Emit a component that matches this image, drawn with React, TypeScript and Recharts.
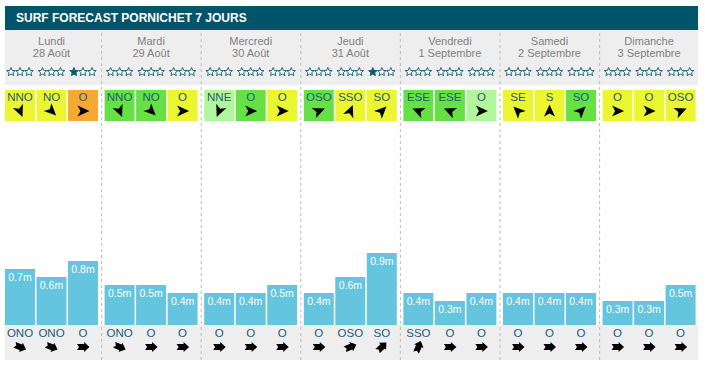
import { BarChart, Bar, XAxis, YAxis, ReferenceLine, LabelList } from 'recharts';

const days = ['Lundi', 'Mardi', 'Mercredi', 'Jeudi', 'Vendredi', 'Samedi', 'Dimanche'];
const dates = ['28 Août', '29 Août', '30 Août', '31 Août', '1 Septembre', '2 Septembre', '3 Septembre'];

// wave height in metres, three forecasts per day
const waveSlot1 = [0.7, 0.5, 0.4, 0.4, 0.4, 0.4, 0.3];
const waveSlot2 = [0.6, 0.5, 0.4, 0.6, 0.3, 0.4, 0.3];
const waveSlot3 = [0.8, 0.4, 0.5, 0.9, 0.4, 0.4, 0.5];

const windDirs = [
  ['NNO', 'NO', 'O'],
  ['NNO', 'NO', 'O'],
  ['NNE', 'O', 'O'],
  ['OSO', 'SSO', 'SO'],
  ['ESE', 'ESE', 'O'],
  ['SE', 'S', 'SO'],
  ['O', 'O', 'OSO'],
];

// y = yellow, g = green, l = light green, o = orange
const windQuality = [
  ['y', 'y', 'o'],
  ['g', 'g', 'y'],
  ['l', 'g', 'y'],
  ['g', 'y', 'y'],
  ['g', 'g', 'l'],
  ['y', 'y', 'g'],
  ['y', 'y', 'y'],
];

const starRatings = [
  [0, 0, 1],
  [0, 0, 0],
  [0, 0, 0],
  [0, 0, 1],
  [0, 0, 0],
  [0, 0, 0],
  [0, 0, 0],
];

const swellDirs = [
  ['ONO', 'ONO', 'O'],
  ['ONO', 'O', 'O'],
  ['O', 'O', 'O'],
  ['O', 'OSO', 'SO'],
  ['SSO', 'O', 'O'],
  ['O', 'O', 'O'],
  ['O', 'O', 'O'],
];

const bearings: Record<string, number> = {
  N: 0, NNE: 22.5, NE: 45, ENE: 67.5, E: 90, ESE: 112.5, SE: 135, SSE: 157.5,
  S: 180, SSO: 202.5, SO: 225, OSO: 247.5, O: 270, ONO: 292.5, NO: 315, NNO: 337.5,
};

const qualityColors: Record<string, string> = {
  y: '#ebf631',
  g: '#66e145',
  l: '#b1f59c',
  o: '#f6a833',
};

const data = days.map((day, i) => ({
  day,
  date: dates[i],
  s0: waveSlot1[i],
  s1: waveSlot2[i],
  s2: waveSlot3[i],
}));

const TEAL = '#0b5a70';
const BAR = '#65c4de';

const starPath = (cx: number, cy: number) => {
  const pts: string[] = [];
  for (let k = 0; k < 10; k++) {
    const r = k % 2 === 0 ? 4.5 : 2;
    const a = (Math.PI / 5) * k - Math.PI / 2;
    pts.push(`${(cx + r * Math.cos(a)).toFixed(2)},${(cy + r * Math.sin(a)).toFixed(2)}`);
  }
  return `M${pts.join('L')}Z`;
};

const getBox = (props: any) => {
  const vb = props.viewBox ?? props;
  const x = Number(props.x ?? vb.x);
  const y = Number(props.y ?? vb.y);
  const width = Number(props.width ?? vb.width);
  const i = typeof props.index === 'number' ? props.index : days.indexOf(props.value);
  return { x, y, width, i };
};

const valueLabel = (props: any) => {
  const { x, y, width } = getBox(props);
  return (
    <text x={x + width / 2} y={y + 12} textAnchor="middle" fill="#fff" fontSize={10.5}>
      {`${props.value}m`}
    </text>
  );
};

const slotExtras = (slot: number) => (props: any) => {
  const { x, width, i } = getBox(props);
  if (i < 0) return null;
  const cx = x + width / 2;
  const wind = windDirs[i][slot];
  const swell = swellDirs[i][slot];
  const filled = starRatings[i][slot];
  return (
    <g>
      {slot === 1 && (
        <g fill="#808080" fontSize={11} textAnchor="middle">
          <text x={cx} y={45}>{days[i]}</text>
          <text x={cx} y={57}>{dates[i]}</text>
        </g>
      )}
      {[-9, 0, 9].map((dx, k) => (
        <path
          key={k}
          d={starPath(cx + dx, 72)}
          fill={k < filled ? TEAL : '#fff'}
          stroke={TEAL}
          strokeWidth={0.9}
        />
      ))}
      <rect x={x} y={90} width={width} height={31} fill={qualityColors[windQuality[i][slot]]} />
      <text x={cx} y={100.5} textAnchor="middle" fontSize={11.5} fill="#1d5c73">{wind}</text>
      <path
        d="M6.5 0 L-5.5 -5.5 L-2.5 0 L-5.5 5.5 Z"
        fill="#000"
        transform={`translate(${cx} 111) rotate(${bearings[wind] + 90})`}
      />
      <text x={cx} y={337} textAnchor="middle" fontSize={11.5} fill="#1d5a7c">{swell}</text>
      <path
        d="M6.5 0 L1 -5 L1 -3 L-6 -3 L-4 0 L-6 3 L1 3 L1 5 Z"
        fill="#000"
        transform={`translate(${cx} 347) rotate(${bearings[swell] + 90})`}
      />
    </g>
  );
};

export default function App() {
  return (
    <div
      style={{
        position: 'absolute',
        left: 0,
        top: 0,
        width: 705,
        height: 367,
        background: '#fff',
        fontFamily: '"Liberation Sans", Arial, sans-serif',
      }}
    >
      <div
        style={{
          position: 'absolute',
          left: 5,
          top: 6,
          width: 693,
          height: 24,
          lineHeight: '24px',
          paddingLeft: 11,
          boxSizing: 'border-box',
          background: '#02546a',
          color: '#fff',
          fontWeight: 'bold',
          fontSize: 12,
        }}
      >
        SURF FORECAST PORNICHET 7 JOURS
      </div>
      <div style={{ position: 'absolute', left: 5, top: 30, width: 693, height: 55, background: '#eeeeee' }} />
      <div style={{ position: 'absolute', left: 5, top: 325, width: 693, height: 35, background: '#eeeeee' }} />
      <div style={{ position: 'absolute', left: 0, top: 0 }}>
        <BarChart
          width={705}
          height={367}
          data={data}
          barGap={1.5}
          margin={{ top: 30, right: 5.8, bottom: 7, left: 2 }}
        >
          <XAxis dataKey="day" hide />
          {/* 80px per metre, baseline 35px above the bottom of the plot */}
          <YAxis hide type="number" domain={[-35 / 80, 295 / 80]} />
          {days.slice(1).map((d) => (
            <ReferenceLine key={d} x={d} position="start" stroke="#bcbcbc" strokeDasharray="3 3" />
          ))}
          {['s0', 's1', 's2'].map((key, slot) => (
            <Bar key={key} dataKey={key} fill={BAR} barSize={30} isAnimationActive={false}>
              <LabelList dataKey={key} content={valueLabel} />
              <LabelList dataKey="day" content={slotExtras(slot)} />
            </Bar>
          ))}
        </BarChart>
      </div>
    </div>
  );
}
